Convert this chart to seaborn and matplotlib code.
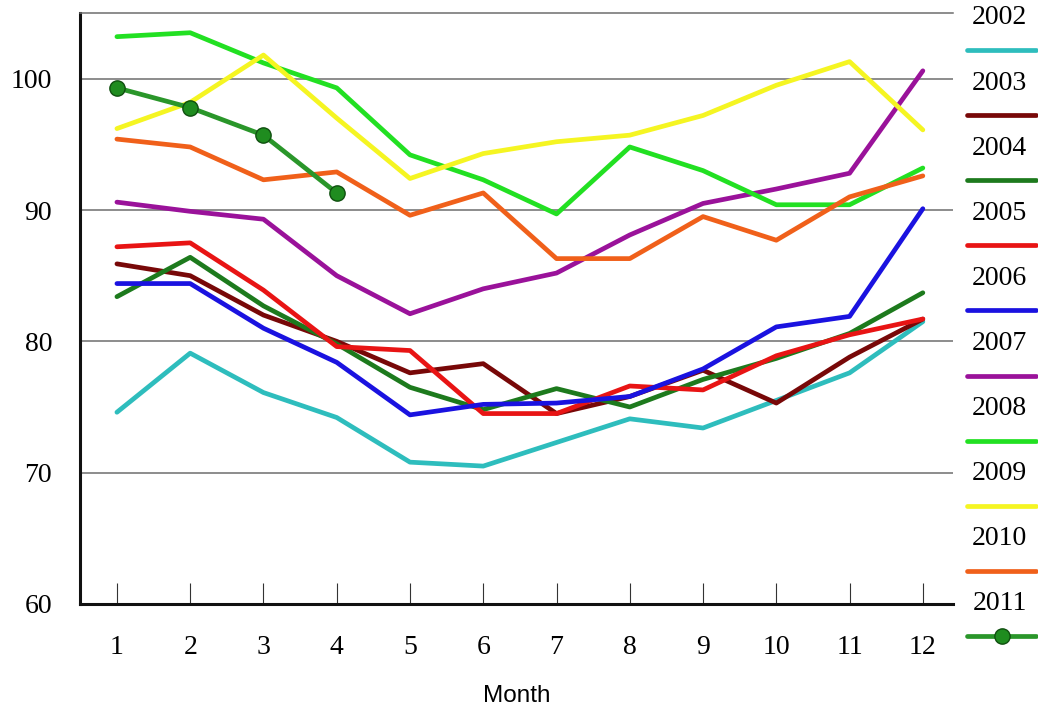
import numpy as np
import pandas as pd
import matplotlib
matplotlib.use("Agg")
import matplotlib.pyplot as plt
from matplotlib.lines import Line2D
import seaborn as sns

sns.set_theme(style="white")
plt.rcParams["text.color"] = "black"
plt.rcParams["xtick.color"] = "black"
plt.rcParams["ytick.color"] = "black"
plt.rcParams["axes.labelcolor"] = "black"

months = list(range(1, 13))
years = ["2002", "2003", "2004", "2005", "2006", "2007", "2008", "2009", "2010", "2011"]

v2002 = [74.6, 79.1, 76.1, 74.2, 70.8, 70.5, 72.3, 74.1, 73.4, 75.5, 77.6, 81.5]
v2003 = [85.9, 85.0, 82.0, 80.0, 77.6, 78.3, 74.5, 75.8, 77.8, 75.3, 78.8, 81.7]
v2004 = [83.4, 86.4, 82.7, 79.8, 76.5, 74.8, 76.4, 75.0, 77.1, 78.7, 80.6, 83.7]
v2005 = [87.2, 87.5, 83.9, 79.6, 79.3, 74.5, 74.5, 76.6, 76.3, 78.9, 80.5, 81.7]
v2006 = [84.4, 84.4, 81.0, 78.4, 74.4, 75.2, 75.3, 75.8, 77.9, 81.1, 81.9, 90.1]
v2007 = [90.6, 89.9, 89.3, 85.0, 82.1, 84.0, 85.2, 88.1, 90.5, 91.6, 92.8, 100.6]
v2008 = [103.2, 103.5, 101.2, 99.3, 94.2, 92.3, 89.7, 94.8, 93.0, 90.4, 90.4, 93.2]
v2009 = [96.2, 98.2, 101.8, 97.0, 92.4, 94.3, 95.2, 95.7, 97.2, 99.5, 101.3, 96.1]
v2010 = [95.4, 94.8, 92.3, 92.9, 89.6, 91.3, 86.3, 86.3, 89.5, 87.7, 91.0, 92.6]
v2011 = [99.3, 97.8, 95.7, 91.3]

colors = ["#2ebdbd", "#780808", "#1d7a1d", "#e81414", "#1a12e0",
          "#9a129a", "#22e022", "#f5f522", "#f0601a", "#2a962a"]

series = [v2002, v2003, v2004, v2005, v2006, v2007, v2008, v2009, v2010]
rows = []
for yr, vals in zip(years[:-1], series):
    for m, v in zip(months, vals):
        rows.append({"Month": m, "Value": v, "Year": yr})
df = pd.DataFrame(rows)
df11 = pd.DataFrame({"Month": months[:len(v2011)], "Value": v2011})

fig = plt.figure(figsize=(10.38, 7.12), dpi=100)
ax = fig.add_axes([0.077, 0.1517, 0.841, 0.83])

for y in [70, 80, 90, 100]:
    ax.axhline(y, color="#6e6e6e", lw=1.1, zorder=0)

sns.lineplot(data=df, x="Month", y="Value", hue="Year",
             palette=dict(zip(years[:-1], colors[:-1])), lw=3.4,
             legend=False, ax=ax)
sns.lineplot(data=df11, x="Month", y="Value", color=colors[-1], lw=3.4,
             marker="o", markersize=11, markerfacecolor="#1f8c1f",
             markeredgecolor="#0f4f0f", markeredgewidth=1, ax=ax)

ax.set_xlim(0.495, 12.41)
ax.set_ylim(60, 105)
ax.set_xticks(months)
ax.set_yticks([60, 70, 80, 90, 100])
ax.set_xticklabels([str(m) for m in months], fontfamily="Liberation Serif", fontsize=20)
ax.set_yticklabels(["60", "70", "80", "90", "100"], fontfamily="Liberation Serif", fontsize=20)
ax.tick_params(axis="x", direction="in", length=15, width=0.8, color="#333333", pad=22, bottom=True)
ax.tick_params(axis="y", length=0, pad=20)
ax.set_xlabel("Month", fontfamily="Liberation Sans", fontsize=17.5, labelpad=18)
ax.set_ylabel("")

for s in ["left", "bottom"]:
    ax.spines[s].set_color("#111111")
    ax.spines[s].set_linewidth(2.2)
ax.spines["right"].set_visible(False)
ax.spines["top"].set_color("#6e6e6e")
ax.spines["top"].set_linewidth(1.1)

# legend: year label above a short line sample
for i, (yr, c) in enumerate(zip(years, colors)):
    ty = 1 - (18 + i * 65.1) / 712
    ly = 1 - (50 + i * 65.1) / 712
    fig.text(0.963, ty, yr, ha="center", va="center",
             fontfamily="Liberation Serif", fontsize=20)
    fig.add_artist(Line2D([0.932, 0.998], [ly, ly], color=c, lw=3.4))
    if yr == "2011":
        fig.add_artist(Line2D([0.965], [ly], marker="o", markersize=11,
                              markerfacecolor="#1f8c1f", markeredgecolor="#0f4f0f",
                              markeredgewidth=1))

fig.savefig("out.png", dpi=100)
